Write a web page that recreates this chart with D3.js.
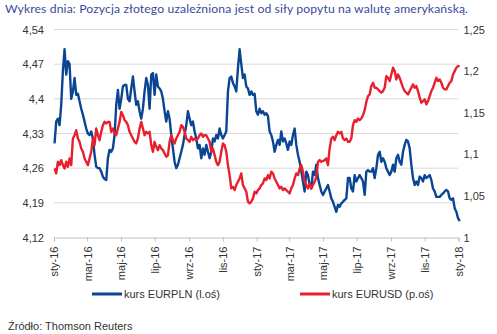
<!DOCTYPE html>
<html>
<head>
<meta charset="utf-8">
<script src="https://cdn.jsdelivr.net/npm/d3@7"></script>
<style>
  body { margin: 0; background: #fff; }
  svg { display: block; }
</style>
</head>
<body>
<svg id="chart" width="497" height="334"></svg>
<script>
// --- data, one sample about every 3 days from 2 Jan 2016 ---
const startDate = new Date(2016, 0, 2);
const stepDays = 3.013;

const eurplnValues = [
  4.31, 4.354, 4.36, 4.347, 4.388, 4.456, 4.50, 4.449, 4.476, 4.47, 4.40, 4.415, 4.442, 4.408, 4.41, 4.395,
  4.38, 4.368, 4.354, 4.34, 4.33, 4.327, 4.334, 4.32, 4.287, 4.263, 4.26, 4.26, 4.253, 4.243, 4.238, 4.236,
  4.28, 4.297, 4.293, 4.30, 4.327, 4.388, 4.418, 4.38, 4.40, 4.425, 4.428, 4.428, 4.40, 4.395, 4.421, 4.445,
  4.415, 4.388, 4.395, 4.375, 4.36, 4.38, 4.415, 4.442, 4.428,
  4.38, 4.449, 4.452, 4.408, 4.449, 4.425, 4.421, 4.415, 4.40, 4.375, 4.354, 4.375, 4.36, 4.327, 4.30, 4.273,
  4.26, 4.267, 4.28, 4.293, 4.307, 4.327, 4.347, 4.375, 4.36, 4.347, 4.354, 4.334, 4.32, 4.30, 4.307, 4.28,
  4.30, 4.287, 4.307, 4.293, 4.28, 4.293, 4.32, 4.314, 4.327, 4.32, 4.34, 4.327, 4.32, 4.327, 4.334, 4.415,
  4.442, 4.445, 4.432, 4.425, 4.415, 4.462, 4.50, 4.47, 4.442, 4.449, 4.425, 4.421,
  4.408, 4.415, 4.408, 4.41, 4.375, 4.368, 4.38, 4.371, 4.375, 4.368, 4.371, 4.365, 4.334, 4.327, 4.314, 4.293,
  4.307, 4.317, 4.307, 4.334, 4.314, 4.32, 4.31, 4.297, 4.314, 4.307, 4.327, 4.34, 4.307, 4.287, 4.273, 4.253,
  4.233, 4.213, 4.253, 4.246, 4.226, 4.219, 4.253, 4.246, 4.267, 4.24, 4.226, 4.213, 4.206, 4.213, 4.219, 4.226,
  4.213, 4.199, 4.192, 4.182, 4.172, 4.186, 4.182, 4.189, 4.192, 4.196, 4.199, 4.24,
  4.24, 4.219, 4.213, 4.246, 4.233, 4.24, 4.246, 4.24, 4.233, 4.206, 4.253, 4.256, 4.253, 4.253, 4.26, 4.24,
  4.26, 4.287, 4.293, 4.273, 4.28, 4.273, 4.26, 4.253, 4.246, 4.253, 4.267, 4.253, 4.28, 4.287, 4.273, 4.267,
  4.293, 4.307, 4.317, 4.314, 4.30, 4.267, 4.24, 4.226, 4.233, 4.226, 4.243, 4.24, 4.233, 4.246, 4.24, 4.243,
  4.246, 4.236, 4.219, 4.213, 4.202, 4.202, 4.202, 4.206, 4.209, 4.213, 4.216, 4.213, 4.199, 4.196, 4.199, 4.179,
  4.172, 4.159, 4.153
];

const eurusdValues = [
  1.083, 1.077, 1.091, 1.087, 1.093, 1.087, 1.083, 1.091, 1.085, 1.095, 1.087, 1.119, 1.123, 1.129, 1.119, 1.115,
  1.107, 1.103, 1.095, 1.091, 1.087, 1.095, 1.103, 1.119, 1.111, 1.131, 1.123, 1.117, 1.127, 1.135, 1.139, 1.137,
  1.139, 1.139, 1.127, 1.131, 1.125, 1.123, 1.131, 1.139, 1.151, 1.147, 1.141, 1.139, 1.135, 1.127, 1.123, 1.119,
  1.115, 1.113, 1.119, 1.131, 1.139, 1.131, 1.123, 1.127, 1.125,
  1.127, 1.111, 1.103, 1.115, 1.109, 1.105, 1.111, 1.107, 1.105, 1.101, 1.097, 1.099, 1.115, 1.123, 1.117, 1.113,
  1.119, 1.123, 1.127, 1.135, 1.133, 1.127, 1.119, 1.117, 1.115, 1.121, 1.117, 1.119, 1.117, 1.119, 1.123, 1.125,
  1.121, 1.123, 1.123, 1.119, 1.115, 1.103, 1.107, 1.099, 1.091, 1.087, 1.091, 1.103, 1.113, 1.111, 1.103, 1.087,
  1.075, 1.059, 1.061, 1.057, 1.063, 1.067, 1.071, 1.077, 1.063, 1.059, 1.055, 1.043,
  1.041, 1.043, 1.047, 1.055, 1.053, 1.057, 1.059, 1.063, 1.065, 1.071, 1.069, 1.075, 1.071, 1.079, 1.077, 1.071,
  1.067, 1.063, 1.059, 1.061, 1.057, 1.059, 1.057, 1.055, 1.053, 1.059, 1.063, 1.071, 1.077, 1.075, 1.083, 1.087,
  1.079, 1.067, 1.063, 1.059, 1.065, 1.059, 1.063, 1.067, 1.073, 1.091, 1.093, 1.091, 1.092, 1.093, 1.095, 1.087,
  1.107, 1.119, 1.121, 1.117, 1.123, 1.127, 1.125, 1.127, 1.119, 1.117, 1.119, 1.115,
  1.115, 1.119, 1.135, 1.141, 1.139, 1.143, 1.141, 1.143, 1.147, 1.153, 1.163, 1.170, 1.172, 1.182, 1.186, 1.180,
  1.180, 1.178, 1.176, 1.174, 1.176, 1.180, 1.194, 1.192, 1.188, 1.196, 1.204, 1.200, 1.190, 1.196, 1.192, 1.186,
  1.180, 1.176, 1.174, 1.172, 1.176, 1.180, 1.184, 1.180, 1.182, 1.176, 1.168, 1.162, 1.164, 1.166, 1.160, 1.164,
  1.170, 1.176, 1.180, 1.186, 1.192, 1.188, 1.190, 1.186, 1.180, 1.178, 1.178, 1.182, 1.186, 1.188, 1.196, 1.200,
  1.204, 1.206, 1.206
];

const leftTicks = [4.12, 4.19, 4.26, 4.33, 4.40, 4.47, 4.54];
const rightTicks = [1.00, 1.05, 1.10, 1.15, 1.20, 1.25];
const monthNames = ['sty', 'lut', 'mar', 'kwi', 'maj', 'cze', 'lip', 'sie', 'wrz', 'paź', 'lis', 'gru'];

const titleText = 'Wykres dnia: Pozycja złotego uzależniona jest od siły popytu na walutę amerykańską.';
const sourceText = 'Źródło: Thomson Reuters';
const seriesNames = ['kurs EURPLN (l.oś)', 'kurs EURUSD (p.oś)'];

const Colors = {
    eurpln: '#0a4594',
    eurusd: '#e8202e',
    grid: '#d9d9d9',
    axis: '#bfbfbf',
    text: '#333333',
    title: '#3a4a9a'
};

const labelFont = '"Liberation Sans", Arial, sans-serif';
const layout = { left: 54, right: 458.5, top: 29.5, bottom: 237.5 };

const svg = d3.select('#chart');

function dateAt(i) {
    return new Date(startDate.getTime() + i * stepDays * 864e5);
}

function fmtComma(v) {
    return String(+v.toFixed(2)).replace('.', ',');
}

const x = d3.scaleTime()
    .domain([new Date(2016, 0, 1), new Date(2018, 0, 1)])
    .range([layout.left, layout.right]);

const yLeft = d3.scaleLinear().domain([4.12, 4.54]).range([layout.bottom, layout.top]);
const yRight = d3.scaleLinear().domain([1.0, 1.25]).range([layout.bottom, layout.top]);

// title
svg.append('text')
    .attr('x', 5)
    .attr('y', 13)
    .attr('fill', Colors.title)
    .attr('textLength', 463)
    .attr('lengthAdjust', 'spacing')
    .style('font-family', 'Lato, "Open Sans", sans-serif')
    .style('font-size', '12.2px')
    .text(titleText);

// gridlines
svg.append('g')
    .selectAll('line')
    .data(leftTicks.slice(1))
    .enter()
    .append('line')
    .attr('x1', layout.left)
    .attr('x2', layout.right)
    .attr('y1', (d) => yLeft(d))
    .attr('y2', (d) => yLeft(d))
    .attr('stroke', Colors.grid)
    .attr('stroke-width', 1);

// left axis labels
const leftAxis = svg.append('g')
    .attr('transform', `translate(${layout.left},0)`)
    .call(d3.axisLeft(yLeft).tickValues(leftTicks).tickSize(0).tickPadding(10).tickFormat(fmtComma));
leftAxis.select('.domain').remove();

// right axis labels
const rightAxis = svg.append('g')
    .attr('transform', `translate(${layout.right},0)`)
    .call(d3.axisRight(yRight).tickValues(rightTicks).tickSize(0).tickPadding(5).tickFormat(fmtComma));
rightAxis.select('.domain').remove();

svg.selectAll('.tick text')
    .attr('fill', Colors.text)
    .style('font-family', labelFont)
    .style('font-size', '11px');

// x axis
const xAxis = svg.append('g')
    .attr('transform', `translate(0,${layout.bottom})`)
    .call(d3.axisBottom(x)
        .ticks(d3.timeMonth.every(2))
        .tickSize(4)
        .tickFormat((d) => `${monthNames[d.getMonth()]}-${String(d.getFullYear()).slice(2)}`));
xAxis.select('.domain').attr('stroke', Colors.axis);
xAxis.selectAll('.tick line').attr('stroke', Colors.axis);
xAxis.selectAll('.tick text')
    .attr('fill', Colors.text)
    .style('font-family', labelFont)
    .style('font-size', '11px')
    .attr('text-anchor', 'end')
    .attr('transform', 'rotate(-90)')
    .attr('x', -9)
    .attr('y', 0)
    .attr('dy', '0.35em');

// lines
const eurplnLine = d3.line()
    .x((d, i) => x(dateAt(i)))
    .y((d) => yLeft(d));

const eurusdLine = d3.line()
    .x((d, i) => x(dateAt(i)))
    .y((d) => yRight(d));

svg.append('path')
    .datum(eurplnValues)
    .attr('d', eurplnLine)
    .attr('fill', 'none')
    .attr('stroke', Colors.eurpln)
    .attr('stroke-width', 2.4)
    .attr('stroke-linejoin', 'round');

svg.append('path')
    .datum(eurusdValues)
    .attr('d', eurusdLine)
    .attr('fill', 'none')
    .attr('stroke', Colors.eurusd)
    .attr('stroke-width', 2.4)
    .attr('stroke-linejoin', 'round');

// legend
const legendItems = [
    { name: seriesNames[0], color: Colors.eurpln, x: 92 },
    { name: seriesNames[1], color: Colors.eurusd, x: 300 }
];
const legend = svg.append('g');
legendItems.forEach((item) => {
    legend.append('line')
        .attr('x1', item.x)
        .attr('x2', item.x + 30)
        .attr('y1', 294)
        .attr('y2', 294)
        .attr('stroke', item.color)
        .attr('stroke-width', 3);
    legend.append('text')
        .attr('x', item.x + 32)
        .attr('y', 298)
        .attr('fill', Colors.text)
        .style('font-family', labelFont)
        .style('font-size', '11px')
        .text(item.name);
});

// source
svg.append('text')
    .attr('x', 8)
    .attr('y', 330)
    .attr('fill', Colors.text)
    .style('font-family', labelFont)
    .style('font-size', '11px')
    .text(sourceText);
</script>
</body>
</html>
